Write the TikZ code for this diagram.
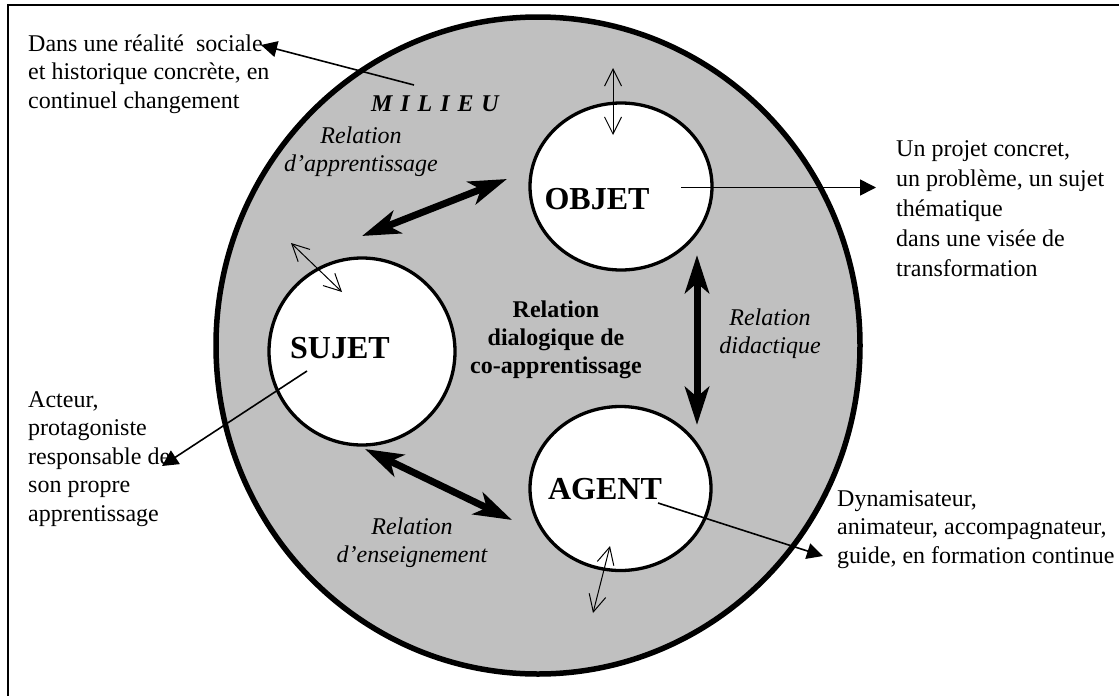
\documentclass[tikz,border=0pt]{standalone}
\usepackage{fontspec}
\setmainfont{Liberation Serif}
\usetikzlibrary{arrows.meta,shapes.geometric}
\definecolor{milieugray}{RGB}{192,192,192}
\newcommand{\firstline}{\rule{0pt}{20pt}}
\begin{document}
\begin{tikzpicture}[x=1pt,y=-1pt,
  txt/.style={font=\fontsize{24}{28.5}\selectfont, inner sep=0pt, align=left, anchor=north west},
  rel/.style={font=\fontsize{24}{28.5}\selectfont\itshape, inner sep=0pt, align=center, anchor=north},
  polename/.style={font=\fontsize{32}{36}\selectfont\bfseries, inner sep=0pt, anchor=base},
  pole/.style={draw, ellipse, fill=white, line width=3.3pt, inner sep=0pt},
  pointer/.style={line width=1.6pt, -{Triangle[length=16pt,width=16pt]}},
  exchange/.style={line width=1pt, {Straight Barb[length=17pt,width=17pt]}-{Straight Barb[length=17pt,width=17pt]}},
  relation/.style={line width=7pt, {Stealth[length=38pt,width=24pt,inset=10pt]}-{Stealth[length=38pt,width=24pt,inset=10pt]}}
]
\useasboundingbox (0,0) rectangle (1119,696);
\fill[white] (0,0) rectangle (1119,696);

% frame
\draw[line width=2pt] (8,696) -- (8,5) -- (1119,5);

% the milieu
\node[draw, ellipse, fill=milieugray, line width=5.5pt, minimum width=644pt, minimum height=657pt, inner sep=0pt] (milieu) at (538,345.5) {};
\node[font=\fontsize{24}{28}\selectfont\bfseries\itshape\addfontfeature{LetterSpace=33}, inner sep=0pt, anchor=base west] (milieulabel) at (371,111) {MILIEU};

% the three poles
\node[pole, minimum width=182pt, minimum height=167pt] (objet) at (621,186.5) {};
\node[pole, minimum width=186pt, minimum height=187pt] (sujet) at (362,351.5) {};
\node[pole, minimum width=181pt, minimum height=164pt] (agent) at (620.5,488.5) {};
\node[polename] (objetname) at (597,209) {OBJET};
\node[polename] (sujetname) at (340,358) {SUJET};
\node[polename] (agentname) at (605,499) {AGENT};

% relations
\node[rel] (relapp) at (361,123) {\firstline Relation\\d’apprentissage};
\node[rel] (reldid) at (770,305) {\firstline Relation\\didactique};
\node[rel] (relens) at (412,514) {\firstline Relation\\d’enseignement};
\node[rel, font=\fontsize{24}{28}\selectfont\bfseries] (reldia) at (556,297.6) {\firstline Relation\\dialogique de\\co-apprentissage};

% descriptions
\node[txt] (milieutext) at (28,31) {\firstline Dans une réalité~ sociale\\et historique concrète, en\\continuel changement};
\node[txt, font=\fontsize{24}{30}\selectfont] (objettext) at (896,136) {\firstline Un projet concret,\\un problème, un sujet\\thématique\\dans une visée de\\transformation};
\node[txt] (sujettext) at (28,387) {\firstline Acteur,\\protagoniste\\responsable de\\son propre\\apprentissage};
\node[txt] (agenttext) at (837,486) {\firstline Dynamisateur,\\animateur, accompagnateur,\\guide, en formation continue};

% connector ends
\coordinate (milieutail) at (414,85);
\coordinate (milieutip) at (261,45);
\coordinate (objettail) at (681,187.5);
\coordinate (objettip) at (876,187.5);
\coordinate (sujettail) at (307,371);
\coordinate (sujettip) at (162,466);
\coordinate (agenttail) at (658,503);
\coordinate (agenttip) at (823,556);
\coordinate (appA) at (362,236);
\coordinate (appB) at (507,179);
\coordinate (didA) at (697,255);
\coordinate (didB) at (697,425);
\coordinate (ensA) at (365,449);
\coordinate (ensB) at (512,520);
\coordinate (exoA) at (613,68);
\coordinate (exoB) at (613,135);
\coordinate (exsA) at (291,243);
\coordinate (exsB) at (342,292);
\coordinate (exaA) at (610,546);
\coordinate (exaB) at (593,613);

% pointers to the descriptions
\draw[pointer] (milieutail) -- (milieutip);
\draw[pointer] (objettail) -- (objettip);
\draw[pointer] (sujettail) -- (sujettip);
\draw[pointer] (agenttail) -- (agenttip);

% relation arrows
\draw[relation] (appA) -- (appB);
\draw[relation] (didA) -- (didB);
\draw[relation] (ensA) -- (ensB);

% exchanges between each pole and the milieu
\draw[exchange] (exoA) -- (exoB);
\draw[exchange] (exsA) -- (exsB);
\draw[exchange] (exaA) -- (exaB);
\end{tikzpicture}
\end{document}
